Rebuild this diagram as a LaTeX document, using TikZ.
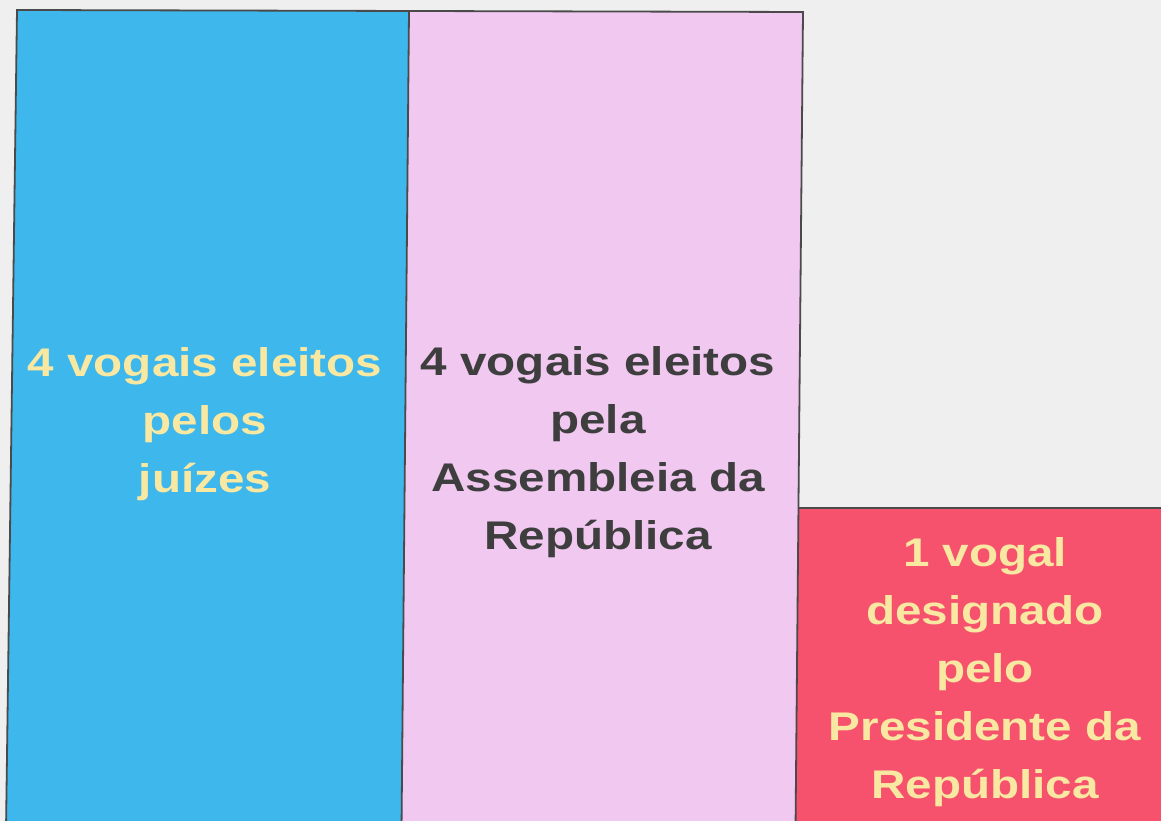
\documentclass[tikz,border=0pt]{standalone}
\usepackage{fontspec}
\setmainfont{Liberation Sans}
\definecolor{bgc}{HTML}{EFEFEF}
\definecolor{cblue}{HTML}{3DB7EC}
\definecolor{cpink}{HTML}{F0C8F0}
\definecolor{cred}{HTML}{F6526E}
\definecolor{tyel}{HTML}{F8E8A2}
\definecolor{tdark}{HTML}{3E3E3E}
\definecolor{edge}{HTML}{4A4A4A}
\begin{document}
\begin{tikzpicture}[x=1pt,y=1pt,
  lbl/.style={align=center, font=\bfseries\fontsize{40}{58}\selectfont, xscale=1.19, transform shape, inner sep=0pt},
  bord/.style={draw=edge, line width=1.8pt, line join=miter}]
\useasboundingbox (0,0) rectangle (1161,821);
\fill[bgc] (0,0) rectangle (1161,821);
\begin{scope}
\clip (0,0) rectangle (1161,821);
\fill[cblue] (17,811) -- (409,810) -- (401.5,-9) -- (6,-9) -- cycle;
\fill[cpink] (409,810) -- (803,809) -- (795.5,-9) -- (401.5,-9) -- cycle;
\fill[cred] (798.5,313) -- (1170,313) -- (1170,-9) -- (795.5,-9) -- cycle;
\draw[bord] (6,-9) -- (17,811) -- (803,809) -- (795.5,-9);
\draw[bord] (409,810) -- (401.5,-9);
\draw[bord] (798.5,313) -- (1170,313);
\end{scope}
\node[lbl, text=tyel] (judges) at (205,397) {4 vogais eleitos\\pelos\\juízes};
\node[lbl, text=tdark] (assembly) at (598,369) {4 vogais eleitos\\pela\\Assembleia da\\República};
\node[lbl, text=tyel] (president) at (985,149) {1 vogal\\designado\\pelo\\Presidente da\\República};
\end{tikzpicture}
\end{document}
